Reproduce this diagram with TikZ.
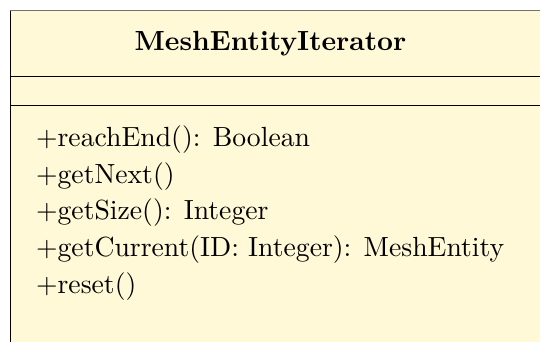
\documentclass[tikz,border=0pt]{standalone}
\definecolor{classfill}{RGB}{255,249,215}
\tikzset{
  umltext/.style={inner sep=0pt, scale=2.77, font=\fontsize{10}{12}\selectfont},
  classname/.style={umltext, anchor=base, font=\fontsize{10}{12}\selectfont\bfseries},
  member/.style={umltext, anchor=base west},
  rule/.style={line width=1pt, draw=black},
}
\begin{document}
\begin{tikzpicture}[x=1pt, y=-1pt]
  \useasboundingbox (0,0) rectangle (540,341);
  \fill[white] (0,0) rectangle (540,341);
  % class box (runs past the right and bottom edges)
  \fill[classfill] (10,10) rectangle (560,360);
  \draw[rule] (10,360) -- (10,10);
  \draw[line width=1pt, draw=black!55] (10,10) -- (560,10);
  \draw[rule] (10,76) -- (560,76);
  \draw[rule] (10,105) -- (560,105);
  % name compartment
  \node[classname] (title) at (270.5,50) {MeshEntityIterator};
  % operations compartment
  \node[member] (op1) at (35.5,146.5) {+reachEnd(): Boolean};
  \node[member] (op2) at (35.5,183.2) {+getNext()};
  \node[member] (op3) at (35.5,219.9) {+getSize(): Integer};
  \node[member] (op4) at (35.5,256.6) {+getCurrent(ID: Integer): MeshEntity};
  \node[member] (op5) at (35.5,293.3) {+reset()};
\end{tikzpicture}
\end{document}
